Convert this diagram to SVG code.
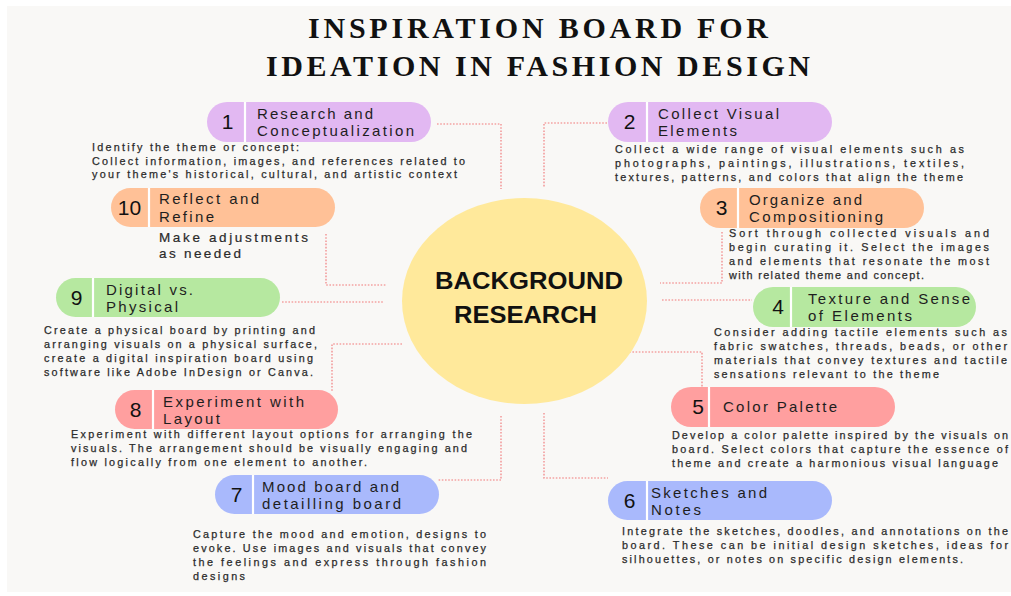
<svg xmlns="http://www.w3.org/2000/svg" width="1011" height="596" viewBox="0 0 1011 596">
<style>
.title{font-family:"Liberation Serif","DejaVu Serif",serif;font-weight:bold;font-size:30px;fill:#111;}
.core{font-family:"Liberation Sans",Arial,sans-serif;font-weight:bold;font-size:24px;fill:#111;text-anchor:middle;}
.pl{font-family:"Liberation Sans",Arial,sans-serif;font-size:15px;fill:#1e1e1e;}
.num{font-family:"Liberation Sans",Arial,sans-serif;font-size:21px;fill:#111;text-anchor:middle;}
.ds{font-family:"Liberation Sans",Arial,sans-serif;font-size:10.8px;fill:#2b2b2b;stroke:#2b2b2b;stroke-width:0.25;}
.ds2{font-family:"Liberation Sans",Arial,sans-serif;font-size:13.5px;fill:#2a2a2a;stroke:#2a2a2a;stroke-width:0.2;}
.div{stroke:#ffffff;stroke-width:2.2;}
.lav{fill:#e2b8f2;}
.pea{fill:#ffc197;}
.grn{fill:#b6e8a0;}
.sal{fill:#ff9f9f;}
.per{fill:#a9b9fc;}
.con{fill:none;stroke:#f4a2a2;stroke-width:1.7;stroke-dasharray:1.6 1.6;}
</style>
<rect x="0" y="0" width="1011" height="596" fill="#ffffff"/>
<rect x="7" y="6" width="1004" height="586" fill="#f9f8f6"/>
<g id="title">
<text class="title" x="308" y="38" textLength="460" lengthAdjust="spacing">INSPIRATION BOARD FOR</text>
<text class="title" x="266" y="76" textLength="544" lengthAdjust="spacing">IDEATION IN FASHION DESIGN</text>
</g>
<g id="connectors">
<path class="con" d="M437,124 H501 V189"/>
<path class="con" d="M326,234 V285 H387"/>
<path class="con" d="M282,302 H383"/>
<path class="con" d="M402,344 H332 V392"/>
<path class="con" d="M501,416 V480 H437"/>
<path class="con" d="M607,123 H544 V187"/>
<path class="con" d="M722,232 V283 H660"/>
<path class="con" d="M662,300 H752"/>
<path class="con" d="M626,352 H702 V387"/>
<path class="con" d="M544,413 V478 H608"/>
</g>
<g id="center">
<ellipse cx="524.5" cy="301" rx="122.5" ry="103" fill="#ffe99b"/>
<text class="core" x="529" y="289" textLength="188" lengthAdjust="spacingAndGlyphs">BACKGROUND</text>
<text class="core" x="525.5" y="323" textLength="143" lengthAdjust="spacingAndGlyphs">RESEARCH</text>
</g>
<g id="step1">
<rect class="lav" x="207" y="102" width="224" height="40" rx="20"/>
<line class="div" x1="245" y1="102" x2="245" y2="142"/>
<text class="num" x="227.5" y="129">1</text>
<text class="pl" x="257" y="119" textLength="116" lengthAdjust="spacing">Research and</text>
<text class="pl" x="257" y="136" textLength="157" lengthAdjust="spacing">Conceptualization</text>
<text class="ds" x="92" y="151" textLength="207" lengthAdjust="spacing">Identify the theme or concept:</text>
<text class="ds" x="92" y="165" textLength="373" lengthAdjust="spacing">Collect information, images, and references related to</text>
<text class="ds" x="92" y="178" textLength="365" lengthAdjust="spacing">your theme's historical, cultural, and artistic context</text>
</g>
<g id="step2">
<rect class="lav" x="608" y="102" width="224" height="40" rx="20"/>
<line class="div" x1="647" y1="102" x2="647" y2="142"/>
<text class="num" x="629.5" y="129">2</text>
<text class="pl" x="658" y="119" textLength="121" lengthAdjust="spacing">Collect Visual</text>
<text class="pl" x="658" y="136" textLength="79" lengthAdjust="spacing">Elements</text>
<text class="ds" x="615" y="153" textLength="349" lengthAdjust="spacing">Collect a wide range of visual elements such as</text>
<text class="ds" x="615" y="167" textLength="349" lengthAdjust="spacing">photographs,  paintings,  illustrations,  textiles,</text>
<text class="ds" x="615" y="181" textLength="348" lengthAdjust="spacing">textures, patterns, and colors that align the theme</text>
</g>
<g id="step3">
<rect class="pea" x="700" y="188" width="224" height="40" rx="20"/>
<line class="div" x1="738" y1="188" x2="738" y2="228"/>
<text class="num" x="721.5" y="215">3</text>
<text class="pl" x="749" y="205" textLength="113" lengthAdjust="spacing">Organize and</text>
<text class="pl" x="749" y="222" textLength="134" lengthAdjust="spacing">Compositioning</text>
<text class="ds" x="729" y="237" textLength="260" lengthAdjust="spacing">Sort through collected visuals and</text>
<text class="ds" x="729" y="251" textLength="260" lengthAdjust="spacing">begin curating it. Select the images</text>
<text class="ds" x="729" y="265" textLength="260" lengthAdjust="spacing">and elements that resonate the most</text>
<text class="ds" x="729" y="279" textLength="195" lengthAdjust="spacing">with related theme and concept.</text>
</g>
<g id="step4">
<rect class="grn" x="753" y="287" width="223" height="40" rx="20"/>
<line class="div" x1="791" y1="287" x2="791" y2="327"/>
<text class="num" x="778" y="314">4</text>
<text class="pl" x="808" y="304" textLength="162" lengthAdjust="spacing">Texture and Sense</text>
<text class="pl" x="808" y="321" textLength="104" lengthAdjust="spacing">of Elements</text>
<text class="ds" x="714" y="336" textLength="293" lengthAdjust="spacing">Consider adding tactile elements such as</text>
<text class="ds" x="714" y="350" textLength="293" lengthAdjust="spacing">fabric swatches, threads, beads, or other</text>
<text class="ds" x="714" y="364" textLength="293" lengthAdjust="spacing">materials that convey textures and tactile</text>
<text class="ds" x="714" y="378" textLength="225" lengthAdjust="spacing">sensations relevant to the theme</text>
</g>
<g id="step5">
<rect class="sal" x="671" y="387" width="224" height="40" rx="20"/>
<line class="div" x1="709" y1="387" x2="709" y2="427"/>
<text class="num" x="698" y="414">5</text>
<text class="pl" x="723" y="412" textLength="114" lengthAdjust="spacing">Color Palette</text>
<text class="ds" x="672" y="439" textLength="336" lengthAdjust="spacing">Develop a color palette inspired by the visuals on</text>
<text class="ds" x="672" y="453" textLength="336" lengthAdjust="spacing">board. Select colors that capture the essence of</text>
<text class="ds" x="672" y="467" textLength="326" lengthAdjust="spacing">theme and create a harmonious visual language</text>
</g>
<g id="step6">
<rect class="per" x="608" y="481" width="224" height="39" rx="19.5"/>
<line class="div" x1="647" y1="481" x2="647" y2="520"/>
<text class="num" x="629.5" y="508">6</text>
<text class="pl" x="651" y="498" textLength="116" lengthAdjust="spacing">Sketches and</text>
<text class="pl" x="651" y="515" textLength="50" lengthAdjust="spacing">Notes</text>
<text class="ds" x="622" y="535" textLength="386" lengthAdjust="spacing">Integrate the sketches, doodles, and annotations on the</text>
<text class="ds" x="622" y="549" textLength="386" lengthAdjust="spacing">board. These can be initial design sketches, ideas for</text>
<text class="ds" x="622" y="563" textLength="341" lengthAdjust="spacing">silhouettes, or notes on specific design elements.</text>
</g>
<g id="step7">
<rect class="per" x="215" y="475" width="224" height="39" rx="19.5"/>
<line class="div" x1="253" y1="475" x2="253" y2="514"/>
<text class="num" x="236.5" y="502">7</text>
<text class="pl" x="262" y="492" textLength="137" lengthAdjust="spacing">Mood board and</text>
<text class="pl" x="262" y="509" textLength="139" lengthAdjust="spacing">detailling board</text>
<text class="ds" x="193" y="538" textLength="293" lengthAdjust="spacing">Capture the mood and emotion, designs to</text>
<text class="ds" x="193" y="552" textLength="293" lengthAdjust="spacing">evoke. Use images and visuals that convey</text>
<text class="ds" x="193" y="566" textLength="293" lengthAdjust="spacing">the feelings and express through fashion</text>
<text class="ds" x="193" y="580" textLength="52" lengthAdjust="spacing">designs</text>
</g>
<g id="step8">
<rect class="sal" x="115" y="390" width="223" height="39" rx="19.5"/>
<line class="div" x1="153" y1="390" x2="153" y2="429"/>
<text class="num" x="135.5" y="417">8</text>
<text class="pl" x="163" y="407" textLength="141" lengthAdjust="spacing">Experiment with</text>
<text class="pl" x="163" y="424" textLength="57" lengthAdjust="spacing">Layout</text>
<text class="ds" x="71" y="438" textLength="401" lengthAdjust="spacing">Experiment with different layout options for arranging the</text>
<text class="ds" x="71" y="452" textLength="396" lengthAdjust="spacing">visuals. The arrangement should be visually engaging and</text>
<text class="ds" x="71" y="466" textLength="296" lengthAdjust="spacing">flow logically from one element to another.</text>
</g>
<g id="step9">
<rect class="grn" x="56" y="278" width="224" height="39" rx="19.5"/>
<line class="div" x1="93" y1="278" x2="93" y2="317"/>
<text class="num" x="76.5" y="305">9</text>
<text class="pl" x="106" y="295" textLength="87" lengthAdjust="spacing">Digital vs.</text>
<text class="pl" x="106" y="312" textLength="72" lengthAdjust="spacing">Physical</text>
<text class="ds" x="44" y="334" textLength="271" lengthAdjust="spacing">Create a physical board by printing and</text>
<text class="ds" x="44" y="348" textLength="273" lengthAdjust="spacing">arranging visuals on a physical surface,</text>
<text class="ds" x="44" y="362" textLength="269" lengthAdjust="spacing">create a digital inspiration board using</text>
<text class="ds" x="44" y="376" textLength="269" lengthAdjust="spacing">software like Adobe InDesign or Canva.</text>
</g>
<g id="step10">
<rect class="pea" x="111" y="188" width="224" height="39" rx="19.5"/>
<line class="div" x1="149" y1="188" x2="149" y2="227"/>
<text class="num" x="129.5" y="215">10</text>
<text class="pl" x="159" y="204" textLength="100" lengthAdjust="spacing">Reflect and</text>
<text class="pl" x="159" y="222" textLength="55" lengthAdjust="spacing">Refine</text>
<text class="ds2" x="159" y="242" textLength="149" lengthAdjust="spacing">Make adjustments</text>
<text class="ds2" x="159" y="258" textLength="82" lengthAdjust="spacing">as needed</text>
</g>
</svg>
